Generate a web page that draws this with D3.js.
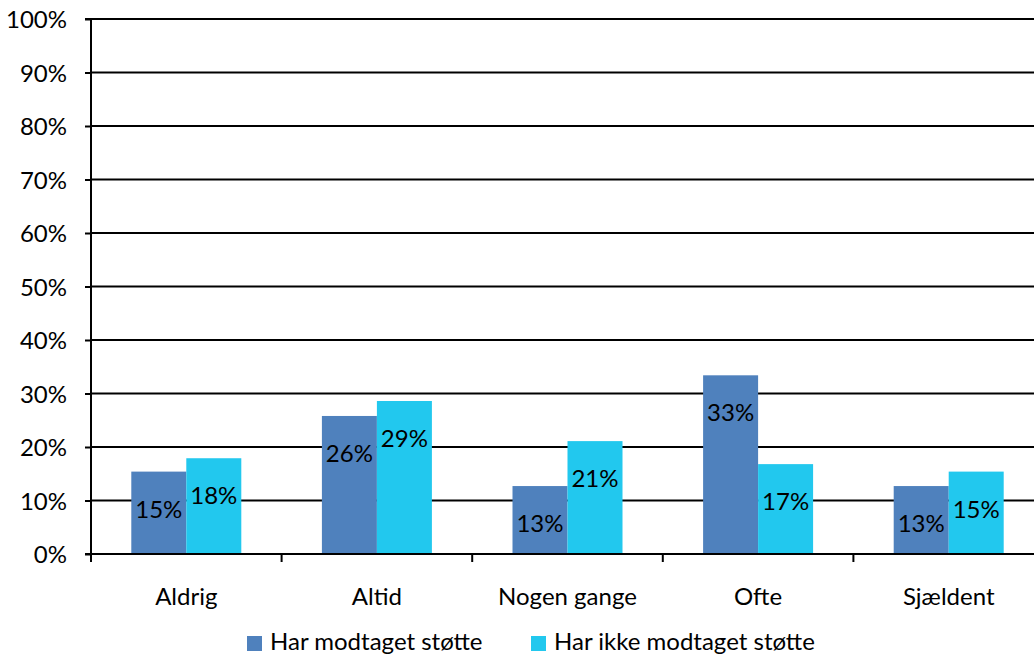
<!DOCTYPE html>
<html><head><meta charset="utf-8">
<script src="https://cdn.jsdelivr.net/npm/d3@7"></script>
<style>
html,body{margin:0;padding:0;background:#fff;overflow:hidden}
text{font-family:Lato,"Open Sans",sans-serif;fill:#000}
</style></head><body>
<svg id="c" width="1034" height="655"></svg>
<script>
const categories = ["Aldrig","Altid","Nogen gange","Ofte","Sjældent"];
const seriesNames = ["Har modtaget støtte","Har ikke modtaget støtte"];
const modtaget = [15.4, 25.8, 12.7, 33.4, 12.7];
const ikkeModtaget = [17.9, 28.6, 21.1, 16.8, 15.4];
const yTicks = [0,10,20,30,40,50,60,70,80,90,100];
const colors = ["#4F81BD","#22C8EE"];

const FS = 24;
const svg = d3.select("#c");
const x0 = 91, x1 = 1044, yTop = 19, yBot = 554;
const x = d3.scaleBand().domain(categories).range([x0, x1]).paddingInner(0).paddingOuter(0);
const y = d3.scaleLinear().domain([0,100]).range([yBot, yTop]);
const groupW = 110;
const xs = d3.scaleBand().domain([0,1]).range([0, groupW]);

// gridlines
svg.append("g").selectAll("line").data(yTicks.filter(d=>d>0)).join("line")
  .attr("x1", x0).attr("x2", 1034).attr("y1", d=>y(d)).attr("y2", d=>y(d))
  .attr("stroke","#000").attr("stroke-width",2);

// bars
const data = categories.map((c,i)=>({c, v:[modtaget[i], ikkeModtaget[i]]}));
const g = svg.append("g").selectAll("g").data(data).join("g")
  .attr("transform", d=>`translate(${x(d.c)+x.bandwidth()/2-groupW/2},0)`);
g.selectAll("rect").data(d=>d.v.map((v,k)=>({v,k}))).join("rect")
  .attr("x", d=>xs(d.k)).attr("width", xs.bandwidth())
  .attr("y", d=>y(d.v)).attr("height", d=>yBot-y(d.v))
  .attr("fill", d=>colors[d.k]);
g.selectAll("text").data(d=>d.v.map((v,k)=>({v,k}))).join("text")
  .attr("x", d=>xs(d.k)+xs.bandwidth()/2).attr("y", d=>y(d.v)+46)
  .attr("text-anchor","middle")
  .attr("font-size",FS).text(d=>Math.round(d.v)+"%");

// y axis
const yAxis = d3.axisLeft(y).tickValues(yTicks).tickSize(6).tickPadding(18).tickFormat(d=>d+"%");
const ya = svg.append("g").attr("transform",`translate(${x0},0)`).call(yAxis);
ya.select(".domain").attr("stroke","#000").attr("stroke-width",2).attr("d",`M-6,${yTop}H0V${yBot}H-6`);
ya.selectAll(".tick line").attr("stroke","#000").attr("stroke-width",2);
ya.selectAll(".tick text").attr("font-size",FS).style("font-family","Lato,'Open Sans',sans-serif").attr("fill","#000")
  .attr("dy",null).attr("y",8.5);

// x axis
const xa = svg.append("g").attr("transform",`translate(0,${yBot})`);
xa.append("line").attr("x1",x0-6).attr("x2",1034).attr("stroke","#000").attr("stroke-width",2);
xa.selectAll("line.t").data(categories.map(c=>x(c)).concat([x1])).join("line").attr("class","t")
  .attr("x1",d=>d).attr("x2",d=>d).attr("y1",0).attr("y2",8).attr("stroke","#000").attr("stroke-width",2);
xa.selectAll("text").data(categories).join("text")
  .attr("x", d=>x(d)+x.bandwidth()/2).attr("y", 51)
  .attr("text-anchor","middle").attr("font-size",FS).text(d=>d);

// legend
const leg = svg.append("g");
const legX = [247, 531];
seriesNames.forEach((s,k)=>{
  leg.append("rect").attr("x",legX[k]).attr("y",636).attr("width",15).attr("height",15).attr("fill",colors[k]);
  leg.append("text").attr("x",legX[k]+23).attr("y",650)
    .attr("font-size",FS).text(s);
});
</script></body></html>
